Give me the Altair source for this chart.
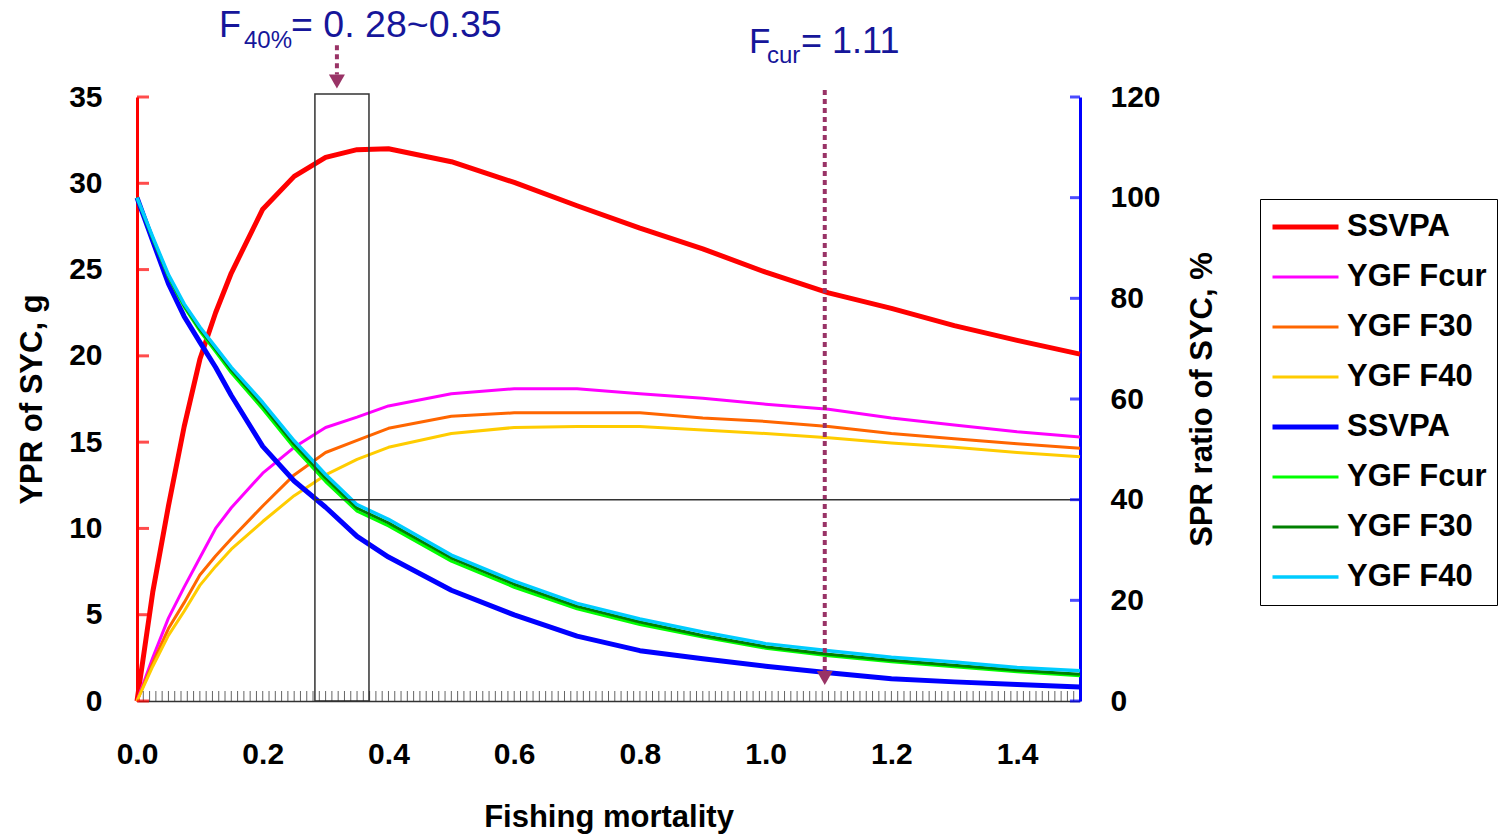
import json
import altair as alt
import pandas as pd

# ---------------- data ----------------
F = [0, 0.025, 0.05, 0.075, 0.1, 0.125, 0.15, 0.2, 0.25, 0.3, 0.35, 0.4,
     0.5, 0.6, 0.7, 0.8, 0.9, 1.0, 1.1, 1.2, 1.3, 1.4, 1.5]

# YPR (left axis, g)
ypr_ssvpa = [0, 6.3, 11.3, 15.9, 19.8, 22.5, 24.8, 28.5, 30.4, 31.5, 31.95, 32.0,
             31.25, 30.05, 28.7, 27.4, 26.2, 24.85, 23.65, 22.75, 21.75, 20.9, 20.1]
ypr_fcur = [0, 2.5, 4.8, 6.6, 8.3, 10.0, 11.2, 13.2, 14.7, 15.85, 16.45, 17.1,
            17.8, 18.1, 18.1, 17.8, 17.55, 17.2, 16.9, 16.4, 16.0, 15.6, 15.3]
ypr_f30 = [0, 2.2, 4.2, 5.7, 7.3, 8.4, 9.4, 11.3, 13.1, 14.4, 15.1, 15.8,
           16.5, 16.7, 16.7, 16.7, 16.4, 16.2, 15.9, 15.5, 15.2, 14.9, 14.65]
ypr_f40 = [0, 2.0, 3.8, 5.2, 6.7, 7.8, 8.8, 10.4, 11.9, 13.1, 14.0, 14.7,
           15.5, 15.85, 15.9, 15.9, 15.7, 15.5, 15.25, 14.95, 14.7, 14.4, 14.15]

# SPR ratio (right axis, %)
spr_ssvpa = [100, 91.4, 82.9, 76.4, 71.3, 66.3, 60.7, 50.6, 43.7, 38.5, 32.7, 28.6,
             22.0, 17.1, 12.9, 10.0, 8.4, 6.9, 5.6, 4.4, 3.8, 3.3, 2.8]
spr_fcur = [100, 91.9, 84.3, 78.3, 73.5, 69.4, 65.2, 58.0, 50.3, 43.6, 37.7, 34.8,
            27.8, 22.6, 18.3, 15.2, 12.7, 10.5, 9.0, 7.8, 6.8, 5.8, 5.0]
spr_f30 = [100, 92.0, 84.5, 78.6, 73.9, 69.9, 65.8, 58.7, 51.0, 44.3, 38.3, 35.4,
           28.4, 23.2, 18.8, 15.7, 13.0, 10.8, 9.3, 8.1, 7.1, 6.1, 5.3]
spr_f40 = [100, 92.2, 84.7, 78.9, 74.3, 70.3, 66.3, 59.3, 51.7, 45.0, 39.0, 36.1,
           29.0, 23.8, 19.4, 16.3, 13.7, 11.4, 10.0, 8.7, 7.75, 6.65, 6.0]

keys = ["1", "2", "3", "4", "5", "6", "7", "8"]
labels = ["SSVPA", "YGF Fcur", "YGF F30", "YGF F40",
          "SSVPA", "YGF Fcur", "YGF F30", "YGF F40"]
colors = ["#FF0000", "#FF00FF", "#FF6600", "#FFCC00",
          "#0000FF", "#00FF00", "#008000", "#00CCFF"]
widths = [5, 3, 3, 3, 5, 3, 3, 3.5]

x_label_values = [0.0, 0.2, 0.4, 0.6, 0.8, 1.0, 1.2, 1.4]
x_minor_ticks = [i / 100 for i in range(1, 150)]
left_ticks = [0, 5, 10, 15, 20, 25, 30, 35]
right_ticks = [0, 20, 40, 60, 80, 100, 120]

# annotations (data coordinates: F, left-axis value)
ann_x = [0.1304, 0.1702, 0.2450, 0.9734, 1.0021, 1.0562]
ann_y = [38.45, 37.84, 38.45, 37.57, 36.99, 37.57]
ann_text = ["F", "40%", "= 0. 28~0.35", "F", "cur", "= 1.11"]
ann_size = [36, 24, 37.5, 35, 24, 36]

arrow_x = [0.318, 1.094]
arrow_top = [38.0, 35.4]
arrow_bottom = [36.3, 1.75]
arrow_head = [35.9, 1.33]

box_x = [0.283]
box_x2 = [0.369]
box_top = [35.17]
spr_ref_level = [40]

# ---------------- frames ----------------
left_df = pd.concat([
    pd.DataFrame({"F": F, "value": v, "key": k})
    for v, k in zip([ypr_ssvpa, ypr_fcur, ypr_f30, ypr_f40], keys[:4])
])
right_df = pd.concat([
    pd.DataFrame({"F": F, "value": v, "key": k})
    for v, k in zip([spr_ssvpa, spr_fcur, spr_f30, spr_f40], keys[4:])
])

FONT = "Arial, Liberation Sans, sans-serif"
ARROW = "#993366"
TXT = "#16169A"

label_expr = json.dumps(labels).replace('"', "'") + "[toNumber(datum.value) - 1]"
legend = alt.Legend(
    title=None, orient="none", legendX=1123, legendY=102,
    symbolType="stroke", symbolSize=4356, clipHeight=36, rowPadding=14,
    padding=10, labelOffset=6, labelFont=FONT, labelFontSize=31,
    labelFontWeight="bold", labelColor="black", labelExpr=label_expr,
    strokeColor="black", fillColor="white", cornerRadius=0,
)
color_enc = alt.Color("key:N", scale=alt.Scale(domain=keys, range=colors), legend=legend)
width_enc = alt.StrokeWidth(
    "key:N", scale=alt.Scale(type="ordinal", domain=keys, range=widths), legend=legend
)

xscale = alt.Scale(domain=[0, 1.5], nice=False, zero=False)
lscale = alt.Scale(domain=[0, 35], nice=False)
rscale = alt.Scale(domain=[0, 120], nice=False)

x_axis = alt.Axis(
    orient="bottom", values=x_label_values, format=".1f", title="Fishing mortality",
    domainColor="#333333", domainWidth=1.5, ticks=False, tickSize=0, grid=False,
    labelPadding=38, labelFont=FONT, labelFontSize=30, labelFontWeight="bold",
    labelColor="black", labelFlush=False,
    titleFont=FONT, titleFontSize=31, titleFontWeight="bold", titleColor="black",
    titleY=125, titleBaseline="alphabetic",
)
left_axis = alt.Axis(
    orient="left", values=left_ticks, title="YPR of SYC, g",
    domainColor="#FF0000", domainWidth=3,
    ticks=False, tickSize=0, grid=False, labelPadding=35, labelFont=FONT,
    labelFontSize=30, labelFontWeight="bold", labelColor="black",
    titleFont=FONT, titleFontSize=31, titleFontWeight="bold", titleColor="black",
    titleAngle=270, titleX=-96, titleY=302, titleBaseline="alphabetic", titleAlign="center",
)
right_axis = alt.Axis(
    orient="right", values=right_ticks, title="SPR ratio of SYC, %",
    domainColor="#0000FF", domainWidth=3, ticks=False, tickSize=0, grid=False,
    labelPadding=30, labelFont=FONT, labelFontSize=30, labelFontWeight="bold",
    labelColor="black",
    titleFont=FONT, titleFontSize=31, titleFontWeight="bold", titleColor="black",
    titleAngle=270, titleX=131, titleY=302, titleBaseline="alphabetic", titleAlign="center",
)


def xn(field):
    # every layer carries the same x axis so that the shared axis merges into one
    return alt.X(field, scale=xscale, axis=x_axis)


def yl(field):
    return alt.Y(field, scale=lscale, axis=None)


def yr(field):
    return alt.Y(field, scale=rscale, axis=None)


# ---------------- left (YPR) layers ----------------
left_lines = alt.Chart(left_df).mark_line(strokeJoin="round").encode(
    x=xn("F:Q"),
    y=alt.Y("value:Q", scale=lscale, axis=left_axis),
    color=color_enc, strokeWidth=width_enc,
)

box = alt.Chart(pd.DataFrame({"x": box_x, "x2": box_x2, "y": [0], "y2": box_top})).mark_rect(
    fill="transparent", stroke="#333333", strokeWidth=1.5
).encode(x=xn("x:Q"), x2="x2:Q", y=yl("y:Q"), y2="y2:Q")

xticks = alt.Chart(pd.DataFrame({"x": x_minor_ticks, "z": [0] * len(x_minor_ticks)})).mark_tick(
    orient="vertical", size=10, thickness=1, color="#222222", yOffset=-5
).encode(x=xn("x:Q"), y=yl("z:Q"))

lticks = alt.Chart(pd.DataFrame({"v": left_ticks, "x": [0] * len(left_ticks)})).mark_tick(
    orient="horizontal", size=12, thickness=3, color="#FF0000", xOffset=6
).encode(x=xn("x:Q"), y=yl("v:Q"))

arrows = alt.Chart(pd.DataFrame({"x": arrow_x, "y": arrow_top, "y2": arrow_bottom})).mark_rule(
    strokeDash=[5, 4], strokeWidth=4, color=ARROW
).encode(x=xn("x:Q"), y=yl("y:Q"), y2="y2:Q")

heads = alt.Chart(pd.DataFrame({"x": arrow_x, "y": arrow_head})).mark_point(
    shape="triangle-down", filled=True, size=256, color=ARROW, opacity=1
).encode(x=xn("x:Q"), y=yl("y:Q"))

texts = alt.Chart(pd.DataFrame({"x": ann_x, "y": ann_y, "t": ann_text, "s": ann_size})).mark_text(
    align="left", baseline="alphabetic", font=FONT, color=TXT
).encode(
    x=xn("x:Q"), y=yl("y:Q"), text="t:N",
    size=alt.Size("s:Q", scale=None, legend=None),
)

# ---------------- right (SPR) layers ----------------
right_lines = alt.Chart(right_df).mark_line(strokeJoin="round").encode(
    x=xn("F:Q"),
    y=alt.Y("value:Q", scale=rscale, axis=right_axis),
    color=color_enc, strokeWidth=width_enc,
)

hline = alt.Chart(pd.DataFrame({"x": box_x, "x2": [1.5], "y": spr_ref_level})).mark_rule(
    color="#333333", strokeWidth=1.5
).encode(x=xn("x:Q"), x2="x2:Q", y=yr("y:Q"))

rticks = alt.Chart(pd.DataFrame({"v": right_ticks, "x": [1.5] * len(right_ticks)})).mark_tick(
    orient="horizontal", size=10, thickness=3, color="#0000FF", xOffset=-5
).encode(x=xn("x:Q"), y=yr("v:Q"))

chart = (
    alt.layer(left_lines, right_lines, box, xticks, lticks, arrows, heads, texts, hline, rticks)
    .resolve_scale(y="independent")
    .properties(
        width=943, height=604,
        background="white",
        autosize=alt.AutoSizeParams(type="none"),
        padding={"left": 137, "top": 97, "right": 419, "bottom": 137},
    )
    .configure_view(stroke=None)
)

chart.save("out.html", embed_options={"renderer": "svg", "actions": False})
